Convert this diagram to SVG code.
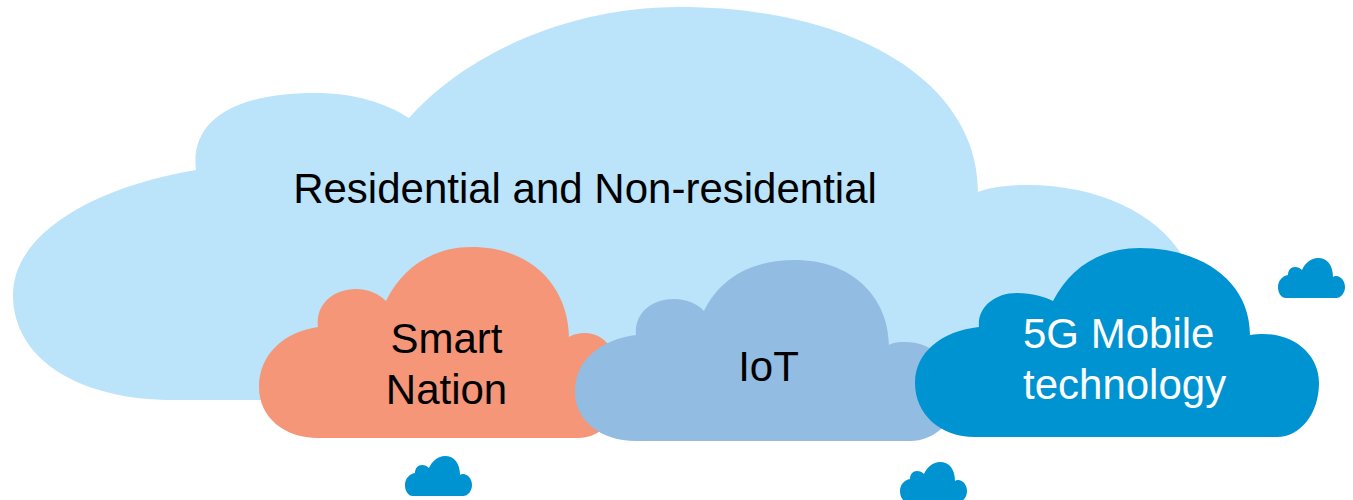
<svg xmlns="http://www.w3.org/2000/svg" xmlns:xlink="http://www.w3.org/1999/xlink" width="1353" height="500" viewBox="0 0 1353 500">
<style>
.lbl{font-family:"Liberation Sans",Arial,sans-serif;font-size:42px;fill:#000}
.w{fill:#fff}
.c-res{fill:#BBE3FA}
.c-sn{fill:#F49677}
.c-iot{fill:#93BCE3}
.c-5g{fill:#0093D1}
.mini{fill:#0093D1}
</style>
<defs>
<path id="minicloud" d="M 8,40 C 3,40 0,35 0,29 C 0,23 4,18 10,17 C 10,12 13,9 17,9 C 20,9 22,10 24,12 C 27,5 33,0 40,0 C 49,0 55,7 55,19 C 56,18 57,18 58,18 C 63,18 67,23 67,29 C 67,35 63,40 58,40 Z"/>
</defs>
<rect width="1353" height="500" fill="#fff"/>
<g id="node-residential">
<path class="c-res" d="M 174,400 C 80,400 13,360 13,295 C 13,235 90,188 196,170 C 190,120 235,93 315,93 C 355,93 385,103 409,118 C 460,60 560,7 680,7 C 850,7 978,80 978,192 C 990,187 1010,185 1027,185 C 1100,185 1160,215 1185,260 C 1200,290 1200,380 1170,400 Z"/>
<text class="lbl" x="585" y="203" text-anchor="middle">Residential and Non-residential</text>
</g>
<g id="node-smart-nation">
<path class="c-sn" d="M 318,438 C 285,438 259,418 259,387 C 259,355 283,332 318,327 C 315,305 333,289 356,289 C 369,289 379,294 386,301 C 402,268 432,247 472,247 C 530,247 568,285 569,337 C 574,334 579,333 585,333 C 605,333 620,352 620,385 C 620,418 602,438 578,438 Z"/>
<text class="lbl" x="446.5" y="353" text-anchor="middle">Smart</text>
<text class="lbl" x="446.5" y="404" text-anchor="middle">Nation</text>
</g>
<g id="node-iot">
<path class="c-iot" d="M 636,441 C 600,441 575,420 575,392 C 575,360 600,340 636,335 C 634,313 652,299 674,299 C 687,299 698,304 704,311 C 720,278 752,260 795,260 C 850,260 888,295 889,345 C 894,342 899,342 905,342 C 935,342 955,365 955,395 C 955,422 935,441 910,441 Z"/>
<text class="lbl" x="768.5" y="381" text-anchor="middle">IoT</text>
</g>
<g id="node-5g">
<path class="c-5g" d="M 975,437 C 940,437 915,414 915,383 C 915,352 942,331 979,327 C 977,308 994,293 1017,293 C 1032,293 1045,297 1053,301 C 1070,268 1100,248 1140,248 C 1200,248 1250,280 1250,335 C 1255,334 1259,334 1263,334 C 1296,334 1319,356 1319,383 C 1319,414 1300,437 1277,437 Z"/>
<text class="lbl w" x="1023" y="348">5G Mobile</text>
<text class="lbl w" x="1023" y="399">technology</text>
</g>
<g id="mini-clouds">
<use class="mini" xlink:href="#minicloud" href="#minicloud" transform="translate(1278,258)"/>
<use class="mini" xlink:href="#minicloud" href="#minicloud" transform="translate(405,456)"/>
<use class="mini" xlink:href="#minicloud" href="#minicloud" transform="translate(900,462)"/>
</g>
<g id="connectors"/>
</svg>
